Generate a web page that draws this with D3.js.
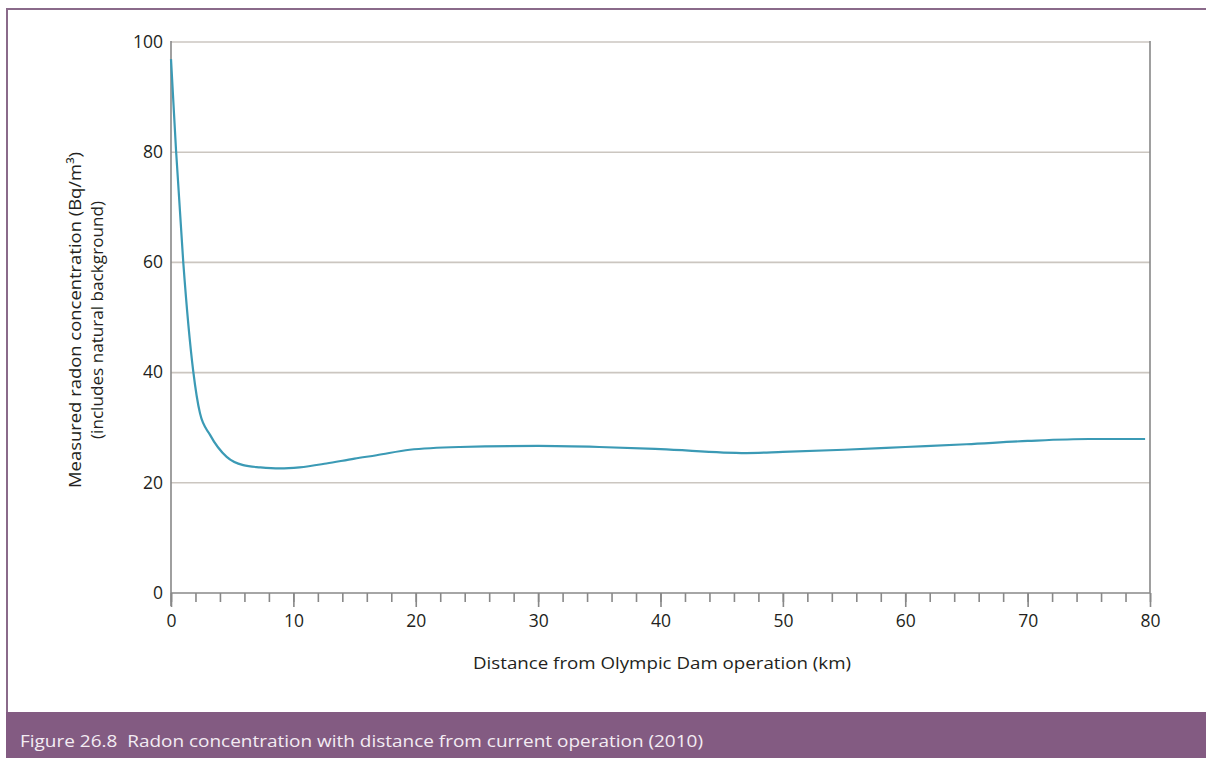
<!DOCTYPE html>
<html><head><meta charset="utf-8">
<script src="https://cdn.jsdelivr.net/npm/d3@7"></script>
<style>
html,body{margin:0;padding:0;background:#fff;}
svg{display:block;}
</style></head>
<body>
<svg id="chart" width="1206" height="758"></svg>
<script>
// Data (distance km, radon Bq/m3)
const distanceKm = [0, 0.41, 1.0, 1.82, 2.37, 3.19, 4.55, 5.9, 7.3, 8.9, 10.5, 12.7, 15, 16.8, 19.5, 23.6, 30, 35, 40, 47, 50, 55, 60, 65, 70, 75, 79.6];
const radon =      [96.9, 80.4, 60.1, 40.2, 32.6, 28.7, 24.7, 23.2, 22.8, 22.6, 22.8, 23.5, 24.4, 25.0, 26.0, 26.5, 26.7, 26.5, 26.1, 25.4, 25.6, 26.0, 26.5, 27.0, 27.6, 27.95, 27.95];
const xTicks = [0, 10, 20, 30, 40, 50, 60, 70, 80];
const yTicks = [0, 20, 40, 60, 80, 100];
const xTitle = "Distance from Olympic Dam operation (km)";
const yTitle1 = "Measured radon concentration (Bq/m\u00B3)";
const yTitle2 = "(includes natural background)";
const caption = "Figure 26.8\u00A0 Radon concentration with distance from current operation (2010)";

const svg = d3.select("#chart");
const W = 1206, H = 758;
const font = "'Open Sans', 'Noto Sans', sans-serif";

// frame
svg.append("line").attr("x1",7).attr("x2",W).attr("y1",9).attr("y2",9).attr("stroke","#8a6a8a").attr("stroke-width",2);
svg.append("line").attr("x1",7).attr("x2",7).attr("y1",8).attr("y2",712).attr("stroke","#8a6a8a").attr("stroke-width",2);
svg.append("rect").attr("x",6).attr("y",712).attr("width",W-6).attr("height",H-712).attr("fill","#835b82");
svg.append("text").attr("x",20).attr("y",747).attr("fill","#f3ecf3")
  .style("font-family","'Open Sans', 'Noto Sans', sans-serif").style("font-size","17px").style("font-weight","400")
  .attr("textLength", 683).attr("lengthAdjust","spacingAndGlyphs")
  .text(caption);

const x = d3.scaleLinear().domain([0,80]).range([171,1150]);
const y = d3.scaleLinear().domain([0,100]).range([593,42]);

// grid
svg.append("g").selectAll("line").data(yTicks.filter(d=>d>0)).join("line")
  .attr("x1",x(0)).attr("x2",x(80)).attr("y1",d=>y(d)).attr("y2",d=>y(d))
  .attr("stroke","#cbc6c0").attr("stroke-width",1.6);

// right border line
svg.append("line").attr("x1",x(80)).attr("x2",x(80)).attr("y1",y(100)-1).attr("y2",y(0))
  .attr("stroke","#888").attr("stroke-width",1.6);

// x axis: minor ticks
const xAxisMinor = d3.axisBottom(x).tickValues(d3.range(0,81,2)).tickSize(9).tickFormat("");
const gxm = svg.append("g").attr("transform",`translate(0,${y(0)})`).call(xAxisMinor);
gxm.select(".domain").remove();
gxm.selectAll("line").attr("stroke","#888").attr("stroke-width",1.6);

const xAxis = d3.axisBottom(x).tickValues(xTicks).tickSize(14).tickPadding(4).tickFormat(d3.format("d"));
const gx = svg.append("g").attr("transform",`translate(0,${y(0)})`).call(xAxis);
gx.select(".domain").attr("d",`M${x(0)},0H${x(80)}`).attr("stroke","#888").attr("stroke-width",1.6);
gx.selectAll("line").attr("stroke","#888").attr("stroke-width",1.6);
gx.selectAll("text").style("font-family",font).style("font-size","17.5px").attr("fill","#231f20").attr("dy","0").attr("y",34);

// y axis
const yAxis = d3.axisLeft(y).tickValues(yTicks).tickSize(0).tickPadding(8).tickFormat(d3.format("d"));
const gy = svg.append("g").attr("transform",`translate(${x(0)},0)`).call(yAxis);
gy.select(".domain").attr("d",`M0,${y(100)-1}V${y(0)+13}`).attr("stroke","#888").attr("stroke-width",1.6);
gy.selectAll("text").style("font-family",font).style("font-size","17.5px").attr("fill","#231f20").attr("dy","0.3em");

// titles
svg.append("text").attr("x",662).attr("y",669).attr("text-anchor","middle")
  .style("font-family",font).style("font-size","17px").attr("fill","#231f20")
  .attr("textLength",378).attr("lengthAdjust","spacingAndGlyphs").text(xTitle);
const yt = svg.append("text").attr("transform","translate(81,320) rotate(-90)").attr("text-anchor","middle")
  .style("font-family",font).style("font-size","17px").attr("fill","#231f20");
yt.append("tspan").attr("x",0).attr("y",0).attr("textLength",336).attr("lengthAdjust","spacingAndGlyphs").text(yTitle1);
yt.append("tspan").attr("x",0).attr("y",22).attr("textLength",238).attr("lengthAdjust","spacingAndGlyphs").text(yTitle2);

// line
const line = d3.line().x((d,i)=>x(distanceKm[i])).y(d=>y(d)).curve(d3.curveMonotoneX);
svg.append("path").datum(radon).attr("d",line).attr("fill","none")
  .attr("stroke","#3b9ab5").attr("stroke-width",2.2);
</script>
</body></html>
